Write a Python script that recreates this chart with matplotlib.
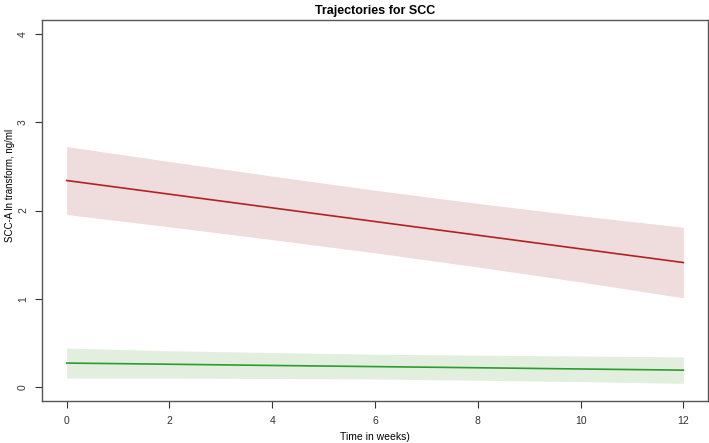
import matplotlib
matplotlib.use('Agg')
import matplotlib.pyplot as plt

plt.rcParams['font.family'] = ['Liberation Sans', 'DejaVu Sans']

weeks = [0, 2, 4, 6, 8, 10, 12]

high_mean = [2.34, 2.185, 2.03, 1.875, 1.72, 1.565, 1.41]
high_upper = [2.725, 2.555, 2.39, 2.23, 2.08, 1.94, 1.81]
high_lower = [1.955, 1.815, 1.67, 1.52, 1.36, 1.19, 1.01]

low_mean = [0.27, 0.257, 0.243, 0.23, 0.217, 0.203, 0.19]
low_upper = [0.44, 0.41, 0.39, 0.37, 0.36, 0.35, 0.34]
low_lower = [0.10, 0.10, 0.095, 0.09, 0.075, 0.06, 0.04]

fig = plt.figure(figsize=(7.09, 4.43), dpi=100)
ax = fig.add_axes([42 / 709, 42 / 443, 666 / 709, 381 / 443])

ax.fill_between(weeks, high_lower, high_upper, color='#efdcdc', lw=0)
ax.plot(weeks, high_mean, color='#b22222', lw=1.2)
ax.fill_between(weeks, low_lower, low_upper, color='#e2efdf', lw=0)
ax.plot(weeks, low_mean, color='#2e9b2e', lw=1.2)

ax.set_xlim(-0.48, 12.48)
ax.set_ylim(-0.16, 4.16)
ax.set_xticks(weeks)
ax.set_yticks([0, 1, 2, 3, 4])
ax.tick_params(colors='#333333', labelsize=7.5, length=5, width=0.8)
ax.tick_params(axis='x', pad=6)
ax.tick_params(axis='y', pad=5)
for lab in ax.get_yticklabels():
    lab.set_rotation(90)
    lab.set_va('center')
for s in ax.spines.values():
    s.set_color('#555555')
    s.set_linewidth(1.0)

ax.set_title('Trajectories for SCC', fontsize=9, fontweight='bold', pad=4)
ax.set_xlabel('Time in weeks)', fontsize=7.5, labelpad=4)
ax.set_ylabel('SCC-A ln transform, ng/ml', fontsize=7)
ax.yaxis.set_label_coords(-0.041, 0.565)

fig.savefig('out.png', dpi=100)
